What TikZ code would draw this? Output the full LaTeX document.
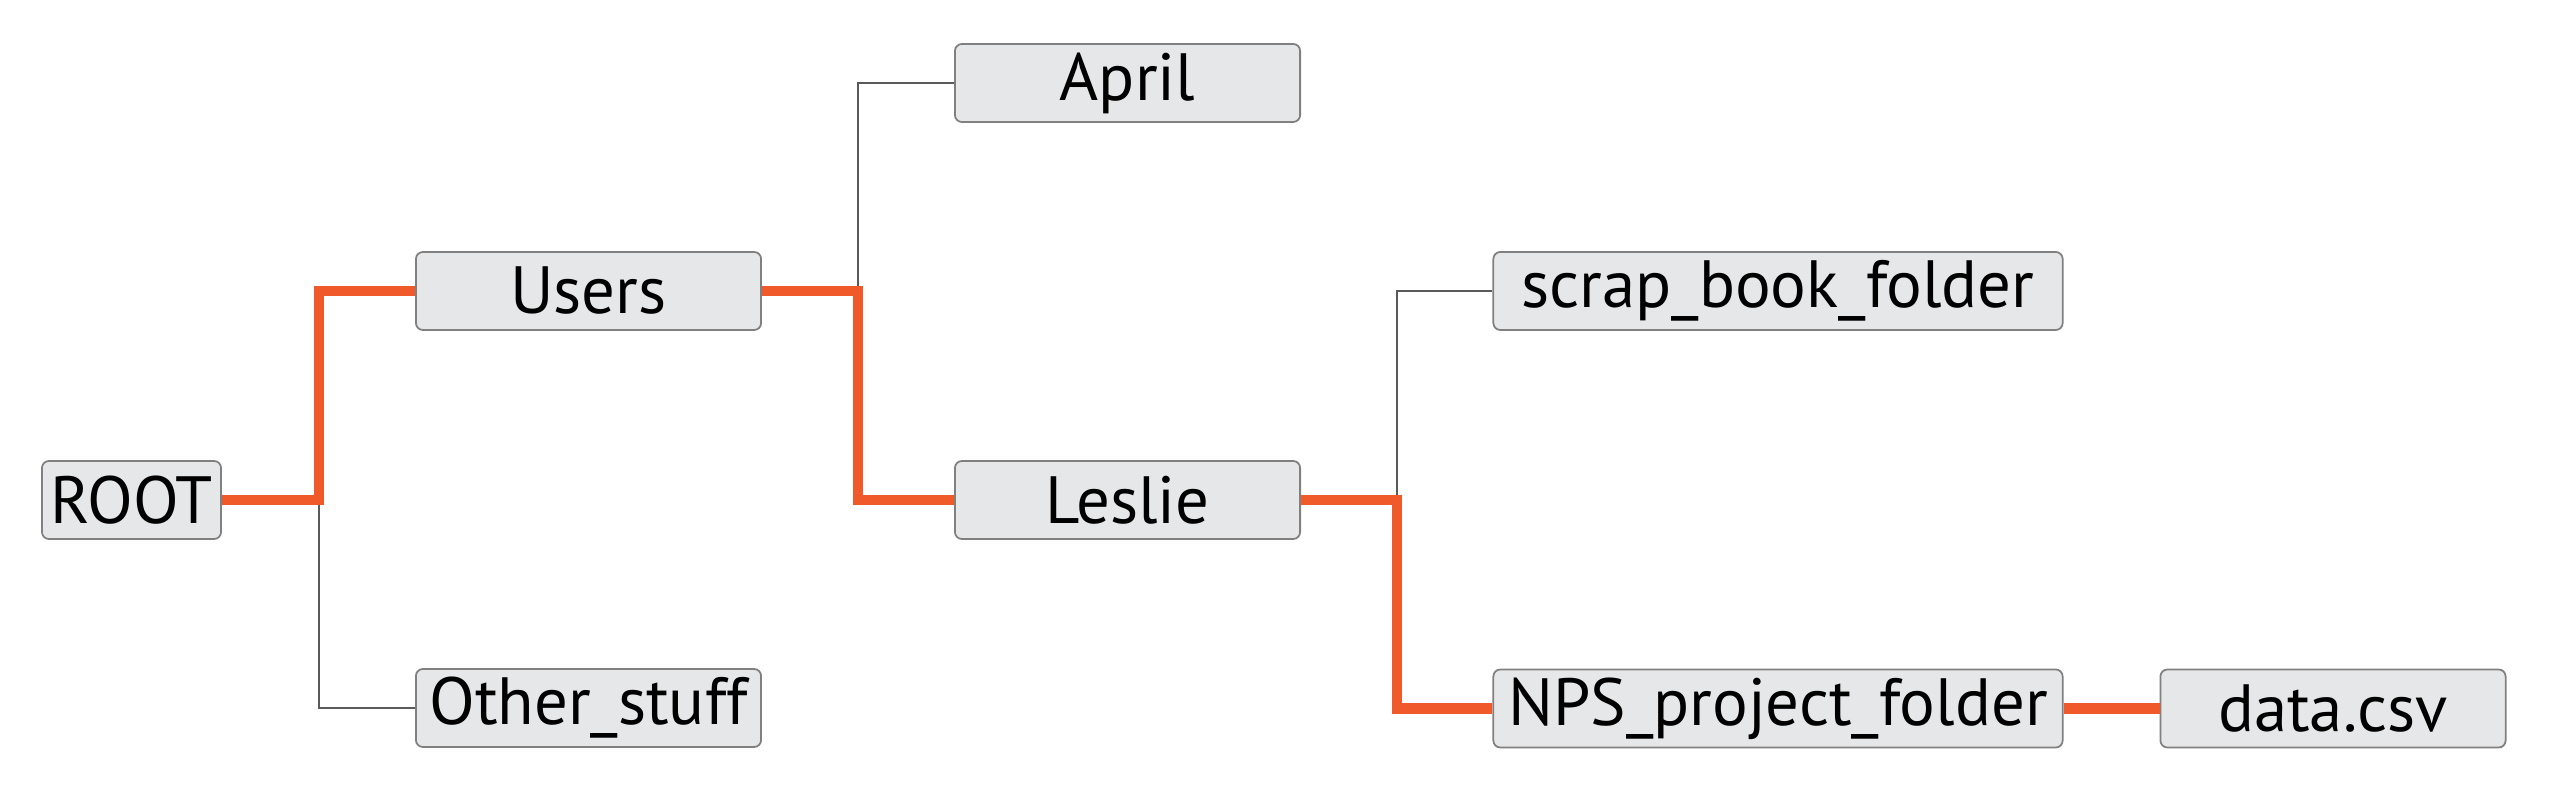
\documentclass[tikz,border=0pt]{standalone}
\usepackage{fontspec}
\setmainfont{PT Sans}
\definecolor{branch}{RGB}{240,90,42}
\definecolor{twig}{RGB}{90,90,90}
\definecolor{boxfill}{RGB}{230,231,232}
\definecolor{boxline}{RGB}{128,128,128}
\begin{document}
\begin{tikzpicture}[x=0.01cm,y=-0.01cm,
  folder/.style={draw=boxline, line width=0.5pt, fill=boxfill, rounded corners=0.07cm,
    minimum height=0.78cm, inner sep=0pt, font=\fontsize{19pt}{22pt}\selectfont},
  narrow/.style={folder, minimum width=1.79cm},
  mid/.style={folder, minimum width=3.45cm},
  wide/.style={folder, minimum width=5.69cm},
  hot/.style={draw=branch, line width=0.1cm, line join=miter},
  cold/.style={draw=twig, line width=0.028cm}]
\useasboundingbox (0,0) rectangle (2552,789);
\node[narrow] (root) at (131.5,500) {ROOT};
\node[mid] (users) at (588.5,291) {Users};
\node[mid] (other) at (588.5,708) {Other\_stuff};
\node[mid] (april) at (1127.5,83) {April};
\node[mid] (leslie) at (1127.5,500) {Leslie};
\node[wide] (scrap) at (1778,291) {scrap\_book\_folder};
\node[wide] (nps) at (1778,708.5) {NPS\_project\_folder};
\node[mid] (data) at (2333,708.5) {data.csv};
\coordinate (j1) at (319,500);
\coordinate (j2) at (858,291);
\coordinate (j3) at (1397,500);
\draw[cold] (j1) |- (other.west);
\draw[cold] (j2) |- (april.west);
\draw[cold] (j3) |- (scrap.west);
\draw[hot] (root.east) -- (j1) |- (users.west);
\draw[hot] (users.east) -- (j2) |- (leslie.west);
\draw[hot] (leslie.east) -- (j3) |- (nps.west);
\draw[hot] (nps.east) -- (data.west);
\end{tikzpicture}
\end{document}
